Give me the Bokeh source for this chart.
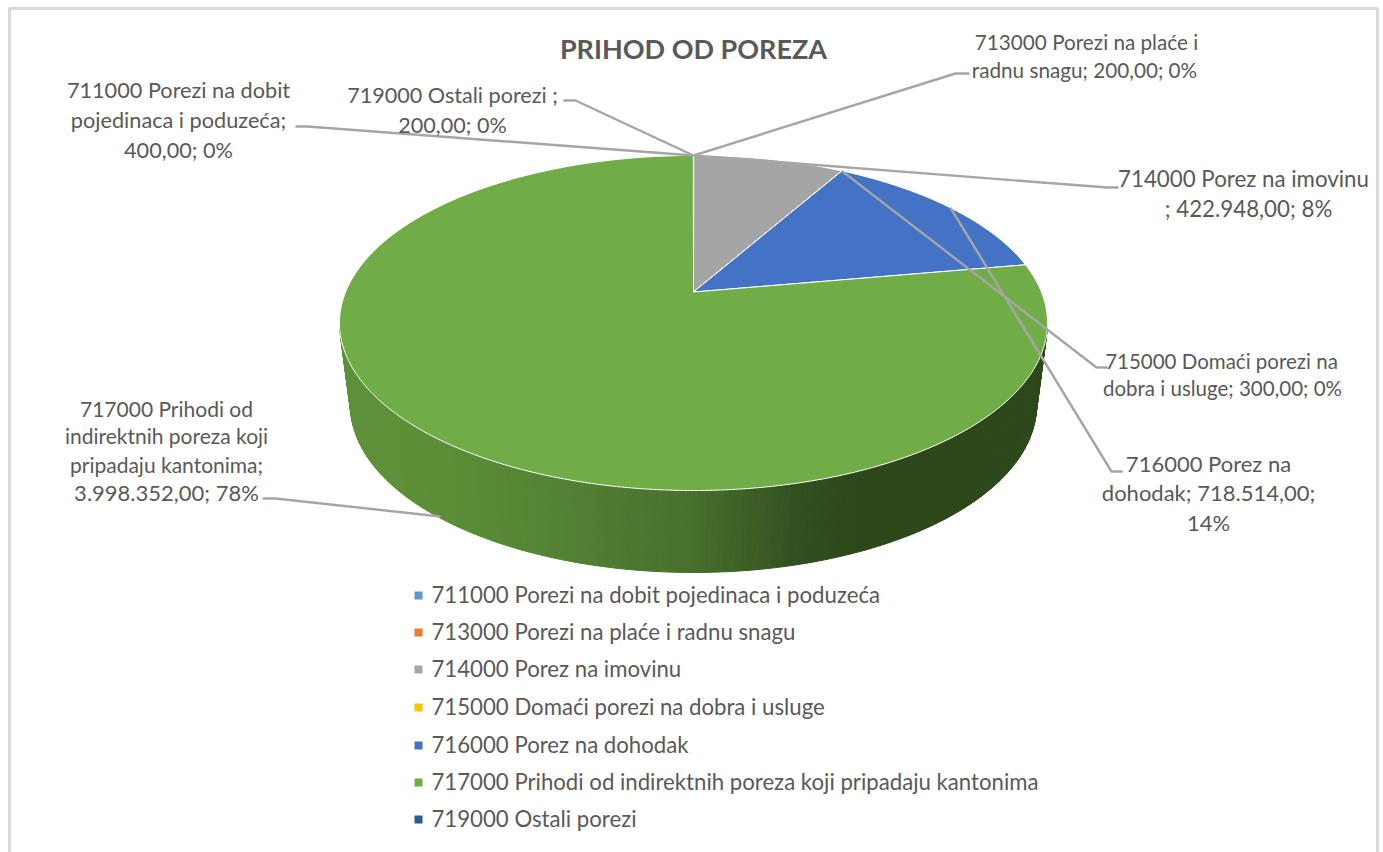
from bokeh.plotting import figure
from bokeh.embed import file_html
from bokeh.resources import INLINE
from bokeh.core.properties import value
import numpy as np

categories = ["711000 Porezi na dobit pojedinaca i poduzeća",
              "713000 Porezi na plaće i radnu snagu",
              "714000 Porez na imovinu",
              "715000 Domaći porezi na dobra i usluge",
              "716000 Porez na dohodak",
              "717000 Prihodi od indirektnih poreza koji pripadaju kantonima",
              "719000 Ostali porezi"]
amounts = [400.0, 200.0, 422948.0, 300.0, 718514.0, 3998352.0, 200.0]
colors = ["#5b9bd5", "#ed7d31", "#a5a5a5", "#ffc000", "#4472c4", "#70ad47", "#255e91"]
title_text = "PRIHOD OD POREZA"

# geometry of the page (page pixels are the data space)
CX, CY, RX, RY = 693.0, 322.5, 354.0, 167.5
K = 31.0 / 167.5           # perspective shift of the pie centre
BX, BY, BRX, BRY = 693.0, 405.0, 343.0, 167.0
FONT = "Lato"
TXT = "#595959"
LEAD = "#a6a6a6"

fr = np.cumsum([0.0] + amounts) / sum(amounts)


def pie_point(f):
    a = 2 * np.pi * np.asarray(f, dtype=float)
    x, y = np.sin(a), np.cos(a)
    d = 1 + K * y
    return CX + RX * x * np.sqrt(1 - K * K) / d, CY - RY * (y + K) / d


p = figure(width=1383, height=852, x_range=(0, 1383), y_range=(852, 0),
           output_backend="svg", toolbar_location=None, min_border=0,
           background_fill_color="white", border_fill_color="white", outline_line_color=None)
p.axis.visible = False
p.grid.visible = False

# chart frame
p.line([9, 9, 1377, 1377], [860, 8, 8, 860], line_color="#d9d9d9", line_width=3)

# side wall, shaded from the lit left to the dark right
stops_x = [339, 450, 560, 693, 800, 860, 1047]
stops_r = [94, 92, 84, 72, 50, 44, 45]
stops_g = [146, 142, 130, 112, 80, 72, 73]
stops_b = [58, 56, 52, 45, 32, 28, 27]
th = np.linspace(0, np.pi, 181)
xs, ys, cs = [], [], []
for a, b in zip(th[:-1], th[1:]):
    qx = [CX - RX * np.cos(a), CX - RX * np.cos(b), BX - BRX * np.cos(b), BX - BRX * np.cos(a)]
    qy = [CY + RY * np.sin(a), CY + RY * np.sin(b), BY + BRY * np.sin(b), BY + BRY * np.sin(a)]
    m = sum(qx[:2]) / 2
    c = (int(np.interp(m, stops_x, stops_r)), int(np.interp(m, stops_x, stops_g)), int(np.interp(m, stops_x, stops_b)))
    xs.append(qx)
    ys.append(qy)
    cs.append("#%02x%02x%02x" % c)
p.patches(xs, ys, fill_color=cs, line_color=cs, line_width=1)

# top face, one slice per category
apex_x, apex_y = CX, CY - RY * K   # perspective image of the pie centre
for i, col in enumerate(colors):
    f = np.linspace(fr[i], fr[i + 1], max(2, int((fr[i + 1] - fr[i]) * 720)))
    ax, ay = pie_point(f)
    p.patch(np.r_[apex_x, ax], np.r_[apex_y, ay], fill_color=col, line_color="white", line_width=1)

# leader lines
top = pie_point(0.0)
end_gray = pie_point(fr[3])
mid_blue = pie_point((fr[4] + fr[5]) / 2)
leaders = [
    ([295, 307, top[0]], [126, 126, top[1]]),
    ([563, 575, top[0]], [100, 100, top[1]]),
    ([969, 955, top[0]], [73, 73, top[1]]),
    ([1118, 1107, top[0]], [187, 187, top[1]]),
    ([1107, 1096, end_gray[0]], [367, 367, end_gray[1]]),
    ([1122, 1111, mid_blue[0]], [471, 471, mid_blue[1]]),
    ([262, 275, 440], [498, 498, 516]),
]
for lx, ly in leaders:
    p.line(lx, ly, line_color=LEAD, line_width=2.4)

# title
p.text([693], [48], text=[title_text], text_font=value(FONT), text_font_size="27px", text_font_style="bold",
       text_color=TXT, text_align="center", text_baseline="middle")

# data labels: one row per text line (text, centre x, y, size)
label_rows = [
    ("711000 Porezi na dobit", 178, 89, 21.7), ("pojedinaca i poduzeća;", 178, 119, 21.7), ("400,00; 0%", 178, 149, 21.7),
    ("719000 Ostali porezi ;", 452, 94, 21.6), ("200,00; 0%", 452, 124, 21.6),
    ("713000 Porezi na plaće i", 1086, 41, 20.7), ("radnu snagu; 200,00; 0%", 1084, 69, 20.7),
    ("714000 Porez na imovinu", 1243, 178, 22.3), ("; 422.948,00; 8%", 1248, 208, 22.3),
    ("715000 Domaći porezi na", 1221, 360, 20.5), ("dobra i usluge; 300,00; 0%", 1222, 387, 20.5),
    ("716000 Porez na", 1208, 463, 22.0), ("dohodak; 718.514,00;", 1208, 492, 22.0), ("14%", 1208, 522, 22.0),
    ("717000 Prihodi od", 166, 408, 21.0), ("indirektnih poreza koji", 166, 435, 21.0), ("pripadaju kantonima;", 166, 464, 21.0),
    ("3.998.352,00; 78%", 166, 492, 22.0),
]
p.text([r[1] for r in label_rows], [r[2] for r in label_rows], text=[r[0] for r in label_rows],
       text_font=value(FONT), text_font_size=["%.1fpx" % r[3] for r in label_rows], text_color=TXT,
       text_align="center", text_baseline="middle")

# legend
leg_y = [595, 632, 669, 707, 745, 782, 819]
text_y = [y - 1 for y in leg_y]
p.rect([418] * 7, leg_y, width=8, height=8, fill_color=colors, line_color=None)
p.text([431] * 7, text_y, text=categories, text_font=value(FONT), text_font_size="22.2px", text_color=TXT,
       text_align="left", text_baseline="middle")

open("out.html", "w").write(file_html(p, INLINE))
